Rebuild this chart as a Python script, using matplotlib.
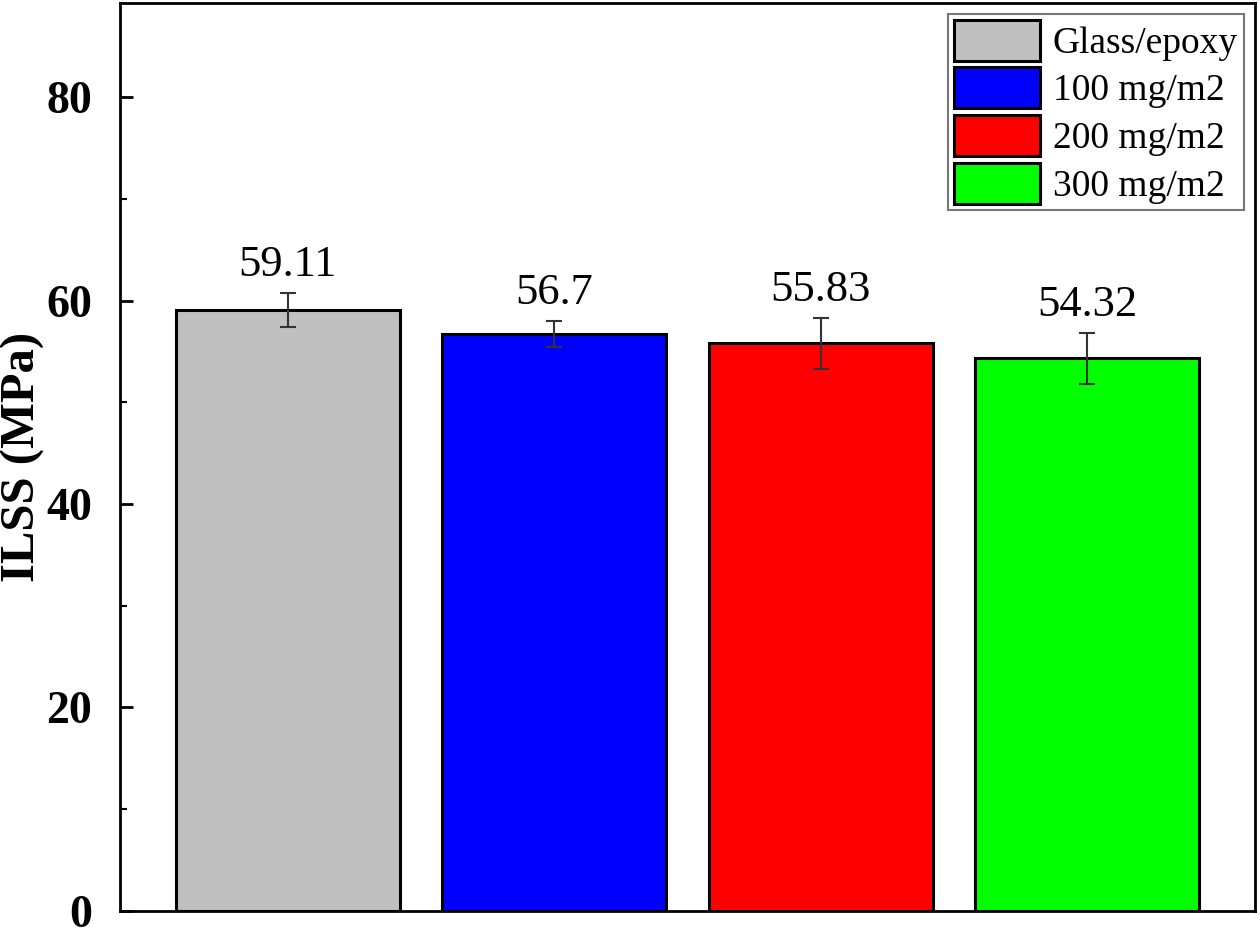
import matplotlib.pyplot as plt
from matplotlib.ticker import MultipleLocator

plt.rcParams['font.family'] = ['Liberation Serif', 'DejaVu Serif']

samples = ['Glass/epoxy', '100 mg/m2', '200 mg/m2', '300 mg/m2']
ilss = [59.11, 56.7, 55.83, 54.32]
ilss_err = [1.65, 1.3, 2.5, 2.5]
colors = ['#c0c0c0', '#0000ff', '#ff0000', '#00ff00']

fig = plt.figure(figsize=(12.6, 9.35), dpi=100)
ax = fig.add_axes([0.095, 0.026, 0.901, 0.971])

pos = range(1, len(samples) + 1)
bars = ax.bar(pos, ilss, width=0.84, color=colors, edgecolor='black', linewidth=2.2,
              label=samples, zorder=2)
ax.errorbar(pos, ilss, yerr=ilss_err, fmt='none', ecolor='#333333', elinewidth=1.5,
            capsize=6, capthick=1.5, zorder=3)

for x, v, e in zip(pos, ilss, ilss_err):
    ax.text(x, v + e + 0.8, str(v), ha='center', va='bottom', fontsize=32)

ax.set_xlim(0.37, 4.63)
ax.set_ylim(0, 89.3)
ax.set_xticks([])
ax.yaxis.set_major_locator(MultipleLocator(20))
ax.yaxis.set_minor_locator(MultipleLocator(10))
ax.tick_params(axis='y', which='major', direction='in', length=9, width=2, labelsize=33, pad=20)
ax.tick_params(axis='y', which='minor', direction='in', length=5, width=1.5)
for lbl in ax.get_yticklabels():
    lbl.set_fontweight('bold')
    lbl.set_verticalalignment('center_baseline')
for s in ax.spines.values():
    s.set_linewidth(2)

ax.set_ylabel('ILSS (MPa)', fontsize=35, fontweight='bold')
ax.yaxis.set_label_coords(-0.066, 0.5)

leg = ax.legend(handles=bars.patches, labels=samples, loc='upper right', fontsize=27,
                frameon=True, fancybox=False, edgecolor='#555555', handlelength=2.3,
                handleheight=1.3, handletextpad=0.35, labelspacing=0.18, borderpad=0.15,
                borderaxespad=0.3)
leg.get_frame().set_linewidth(1.5)

fig.savefig('out.png', dpi=100)
